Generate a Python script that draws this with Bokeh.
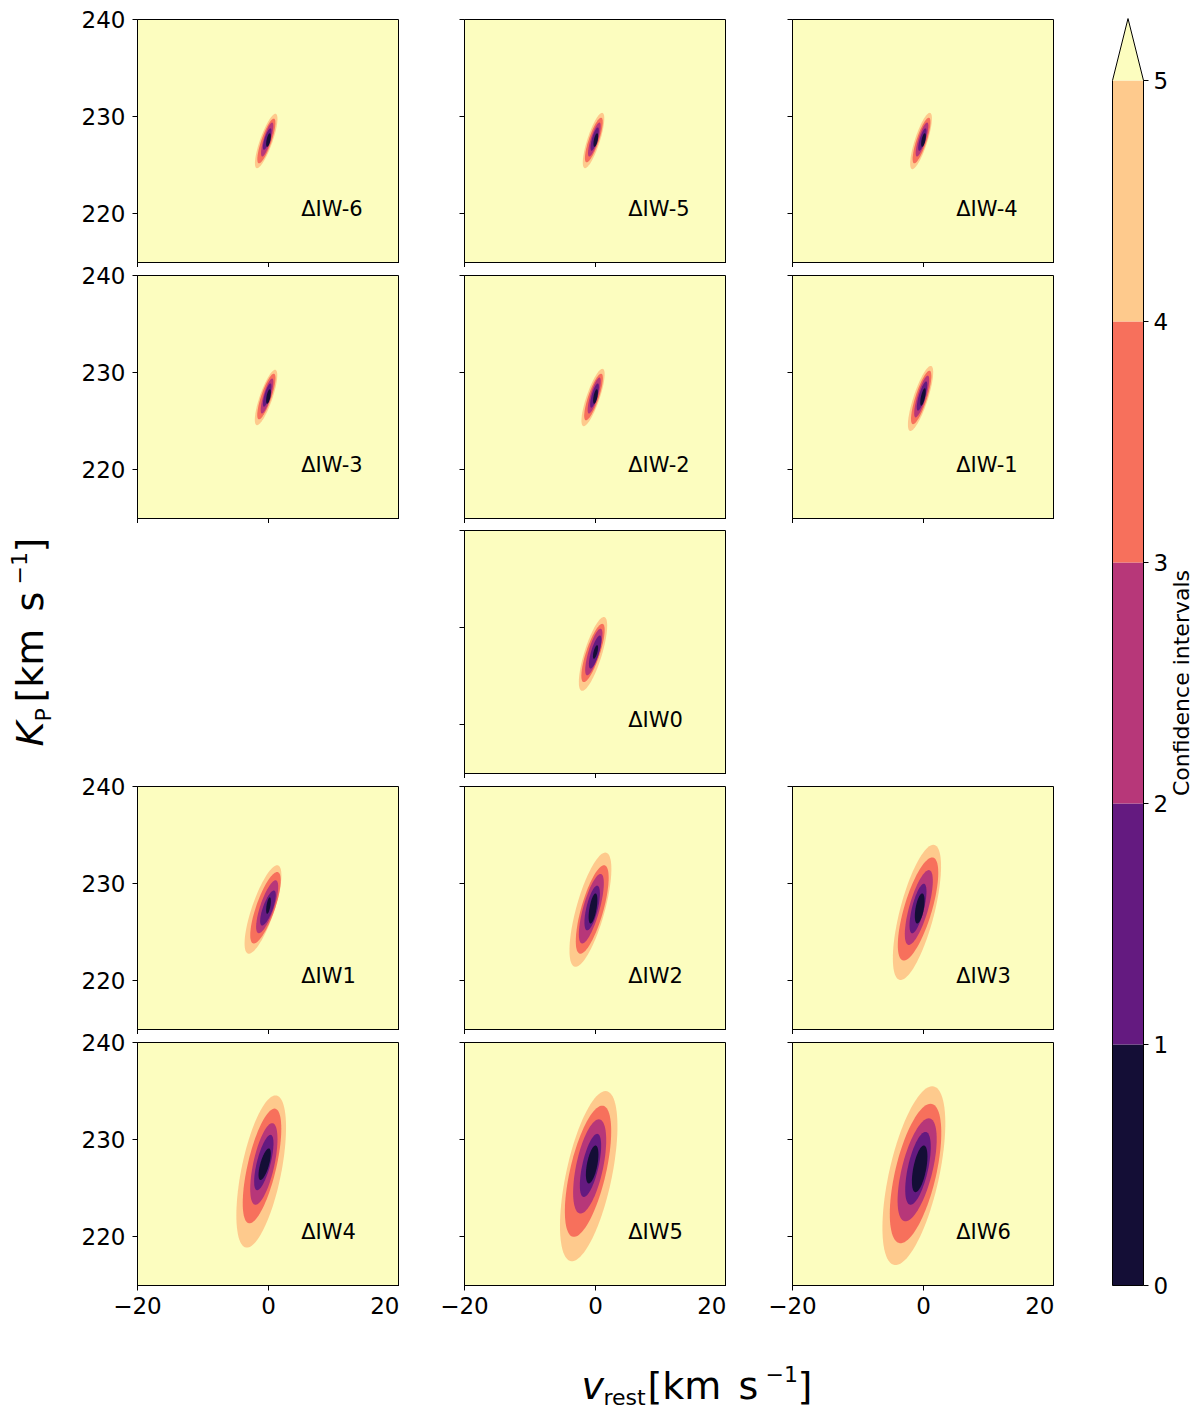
import numpy as np
from bokeh.plotting import figure
from bokeh.layouts import row, column
from bokeh.models import Range1d, FixedTicker, Spacer
from bokeh.core.properties import value
from bokeh.embed import file_html
from bokeh.resources import INLINE

# ---------------- data ----------------
level_bounds = [0, 1, 2, 3, 4, 5]
level_colors = ["#140e36", "#641a80", "#b73779", "#f7705c", "#feca8d"]
over_color = "#fcfdbf"
cbar_ticks = [0, 1, 2, 3, 4, 5]
cbar_tip = 5.257
x_ticks = [-20, 0, 20]
y_ticks = [220, 230, 240]
x_lim = [-20, 20]
y_lim = [215, 240]

panel_grid = [
    ["ΔIW-6", "ΔIW-5", "ΔIW-4"],
    ["ΔIW-3", "ΔIW-2", "ΔIW-1"],
    [None, "ΔIW0", None],
    ["ΔIW1", "ΔIW2", "ΔIW3"],
    ["ΔIW4", "ΔIW5", "ΔIW6"],
]

# contour extents per panel, levels 1..5 sigma (inner -> outer)
# k_top / k_bot: highest / lowest K_P of the contour, v_top / v_bot: v_rest at those points,
# half_w: half width in v_rest of the horizontal chord through the centre
m6_k_top = [228.3, 228.8, 229.4, 229.8, 230.3]
m6_k_bot = [226.9, 226.6, 225.9, 225.2, 224.7]
m6_v_top = [0.2, 0.3, 0.55, 0.8, 1.05]
m6_v_bot = [-0.2, -0.7, -0.95, -1.45, -1.75]
m6_half_w = [0.3, 0.42, 0.56, 0.8, 1.0]

m5_k_top = [228.3, 228.9, 229.4, 229.9, 230.4]
m5_k_bot = [226.9, 226.5, 225.9, 225.3, 224.7]
m5_v_top = [0.25, 0.35, 0.6, 0.85, 1.0]
m5_v_bot = [-0.15, -0.6, -0.95, -1.35, -1.6]
m5_half_w = [0.3, 0.42, 0.58, 0.8, 1.0]

m4_k_top = [228.3, 228.8, 229.4, 229.9, 230.4]
m4_k_bot = [226.9, 226.5, 225.9, 225.2, 224.6]
m4_v_top = [0.2, 0.3, 0.55, 0.8, 0.95]
m4_v_bot = [-0.2, -0.65, -1.0, -1.4, -1.7]
m4_half_w = [0.3, 0.42, 0.58, 0.8, 1.0]

m3_k_top = [228.3, 228.9, 229.4, 229.9, 230.3]
m3_k_bot = [226.8, 226.5, 225.8, 225.2, 224.6]
m3_v_top = [0.2, 0.3, 0.55, 0.8, 1.0]
m3_v_bot = [-0.2, -0.7, -1.0, -1.45, -1.75]
m3_half_w = [0.3, 0.42, 0.58, 0.82, 1.02]

m2_k_top = [228.3, 228.9, 229.5, 229.9, 230.4]
m2_k_bot = [226.8, 226.4, 225.8, 225.1, 224.5]
m2_v_top = [0.2, 0.35, 0.6, 0.85, 1.05]
m2_v_bot = [-0.2, -0.65, -1.0, -1.45, -1.8]
m2_half_w = [0.3, 0.44, 0.6, 0.84, 1.05]

m1_k_top = [228.4, 229.1, 229.7, 230.2, 230.7]
m1_k_bot = [226.6, 226.1, 225.4, 224.7, 224.0]
m1_v_top = [0.2, 0.4, 0.65, 0.9, 1.1]
m1_v_bot = [-0.35, -0.85, -1.2, -1.6, -2.0]
m1_half_w = [0.32, 0.5, 0.68, 0.92, 1.15]

p0_k_top = [228.2, 229.2, 229.9, 230.4, 231.1]
p0_k_bot = [226.8, 225.8, 225.1, 224.4, 223.5]
p0_v_top = [0.25, 0.66, 0.76, 1.02, 1.27]
p0_v_bot = [-0.25, -0.76, -1.27, -1.78, -2.03]
p0_half_w = [0.3, 0.64, 0.84, 1.1, 1.4]

p1_k_top = [228.6, 229.3, 230.35, 231.2, 231.9]
p1_k_bot = [226.9, 225.7, 224.9, 223.85, 222.8]
p1_v_top = [0.2, 0.81, 1.07, 1.32, 1.32]
p1_v_bot = [-0.2, -0.97, -1.48, -2.24, -3.0]
p1_half_w = [0.3, 0.8, 1.1, 1.5, 1.8]

p2_k_top = [229.0, 229.8, 231.0, 231.9, 233.2]
p2_k_bot = [225.9, 225.2, 223.85, 222.8, 221.45]
p2_v_top = [0.0, 0.25, 0.76, 1.3, 1.5]
p2_v_bot = [-0.76, -1.27, -2.03, -2.3, -3.05]
p2_half_w = [0.55, 0.9, 1.3, 1.75, 2.25]

p3_k_top = [229.0, 230.0, 231.4, 232.7, 234.0]
p3_k_bot = [225.9, 224.9, 223.7, 222.1, 220.1]
p3_v_top = [-0.2, 0.05, 0.81, 1.33, 1.5]
p3_v_bot = [-0.96, -1.73, -2.24, -3.0, -3.5]
p3_half_w = [0.64, 0.94, 1.5, 2.2, 2.7]

p4_k_top = [229.1, 230.5, 231.7, 233.2, 234.56]
p4_k_bot = [225.85, 224.8, 223.3, 221.4, 218.9]
p4_v_top = [0.05, 0.3, 0.56, 0.92, 1.07]
p4_v_bot = [-1.22, -1.73, -1.98, -2.9, -3.3]
p4_half_w = [0.69, 1.07, 1.65, 2.24, 3.1]

p5_k_top = [229.4, 230.6, 232.1, 233.5, 235.0]
p5_k_bot = [225.5, 224.1, 222.4, 220.0, 217.5]
p5_v_top = [0.0, 0.25, 0.51, 1.02, 1.53]
p5_v_bot = [-1.02, -1.78, -2.29, -3.3, -3.6]
p5_half_w = [0.81, 1.27, 2.1, 2.8, 3.56]

p6_k_top = [229.4, 230.8, 232.2, 233.7, 235.5]
p6_k_bot = [224.6, 223.3, 221.6, 219.35, 217.1]
p6_v_top = [0.05, 0.3, 0.81, 1.07, 1.33]
p6_v_bot = [-1.22, -1.98, -2.75, -3.5, -4.27]
p6_half_w = [1.0, 1.58, 2.4, 3.2, 3.9]

contours = {
    "ΔIW-6": (m6_k_top, m6_k_bot, m6_v_top, m6_v_bot, m6_half_w),
    "ΔIW-5": (m5_k_top, m5_k_bot, m5_v_top, m5_v_bot, m5_half_w),
    "ΔIW-4": (m4_k_top, m4_k_bot, m4_v_top, m4_v_bot, m4_half_w),
    "ΔIW-3": (m3_k_top, m3_k_bot, m3_v_top, m3_v_bot, m3_half_w),
    "ΔIW-2": (m2_k_top, m2_k_bot, m2_v_top, m2_v_bot, m2_half_w),
    "ΔIW-1": (m1_k_top, m1_k_bot, m1_v_top, m1_v_bot, m1_half_w),
    "ΔIW0": (p0_k_top, p0_k_bot, p0_v_top, p0_v_bot, p0_half_w),
    "ΔIW1": (p1_k_top, p1_k_bot, p1_v_top, p1_v_bot, p1_half_w),
    "ΔIW2": (p2_k_top, p2_k_bot, p2_v_top, p2_v_bot, p2_half_w),
    "ΔIW3": (p3_k_top, p3_k_bot, p3_v_top, p3_v_bot, p3_half_w),
    "ΔIW4": (p4_k_top, p4_k_bot, p4_v_top, p4_v_bot, p4_half_w),
    "ΔIW5": (p5_k_top, p5_k_bot, p5_v_top, p5_v_bot, p5_half_w),
    "ΔIW6": (p6_k_top, p6_k_bot, p6_v_top, p6_v_bot, p6_half_w),
}
label_pos = (5, 220.5)

# ---------------- layout constants ----------------
FONT = "DejaVu Sans"
TICK_FS = "23px"
FW, FH = 262, 243
LABEL_W = 70
col_left = [67, 65, 66]
row_top = [19, 18, 7, 18, 18]
row_overlap = [0, 10, 0, 10, 10]   # rows pulled up so their transparent top border overlaps
row_bottom = [5, 5, 5, 5, 45]
GRID_H = sum(row_top) + 5 * FH + sum(row_bottom) - sum(row_overlap)
PAGE_W, PAGE_H = 1196, 1412
CB_W = PAGE_W - LABEL_W - sum(col_left) - 3 * FW


def contour_outline(vt, vb, kt, kb, hw, n=90):
    t = np.linspace(0, 2 * np.pi, n)
    vc, kc = (vt + vb) / 2, (kt + kb) / 2
    av, ak = (vt - vb) / 2, (kt - kb) / 2
    return vc + av * np.cos(t) + hw * np.sin(t), kc + ak * np.cos(t)


def make_panel(name, ri, ci):
    lb, tb, bb = col_left[ci], row_top[ri], row_bottom[ri]
    p = figure(width=lb + FW, height=tb + FH + bb, title=None,
               x_range=Range1d(*x_lim), y_range=Range1d(*y_lim),
               min_border_left=lb, min_border_right=0, min_border_top=tb, min_border_bottom=bb,
               background_fill_color=over_color, border_fill_color=None,
               outline_line_color="black", outline_line_width=1,
               output_backend="svg", toolbar_location=None, tools="")
    p.grid.visible = False
    kt, kb, vt, vb, hw = contours[name]
    for i in range(4, -1, -1):
        xs, ys = contour_outline(vt[i], vb[i], kt[i], kb[i], hw[i])
        p.patch(xs, ys, fill_color=level_colors[i], line_color=None)
    p.text(x=[label_pos[0]], y=[label_pos[1]], text=[name], text_font=value(FONT),
           text_font_size="21px", text_color="black", text_align="left", text_baseline="alphabetic")
    for ax, ticks in ((p.xaxis, x_ticks), (p.yaxis, y_ticks)):
        ax.ticker = FixedTicker(ticks=ticks)
        ax.minor_tick_line_color = None
        ax.major_tick_in = 0
        ax.major_tick_out = 5
        ax.major_tick_line_color = "black"
        ax.axis_line_color = "black"
        ax.major_label_text_font = FONT
        ax.major_label_text_font_size = TICK_FS
        ax.major_label_text_color = "black"
    p.xaxis.major_label_overrides = {-20: "−20", 0: "0", 20: "20"}
    if ri == 4:
        p.xaxis.major_label_standoff = 6
    else:
        p.xaxis.major_label_text_color = None
        p.xaxis.major_label_standoff = 0
    if ci == 0:
        p.yaxis.major_label_standoff = 7
    else:
        p.yaxis.major_label_text_color = None
        p.yaxis.major_label_standoff = 0
    return p


rows = []
for ri, names in enumerate(panel_grid):
    kids = []
    for ci, name in enumerate(names):
        if name is None:
            kids.append(Spacer(width=col_left[ci] + FW, height=row_top[ri] + FH + row_bottom[ri]))
        else:
            kids.append(make_panel(name, ri, ci))
    if row_overlap[ri]:
        rows.append(row(*kids, styles={"margin-top": f"-{row_overlap[ri]}px"}))
    else:
        rows.append(row(*kids))
grid_col = column(*rows)

MAIN_FS, SCRIPT_FS = "38px", "22px"

# ---- y label figure (pixel coordinates) ----
ylab = figure(width=LABEL_W, height=GRID_H, title=None, x_range=Range1d(0, LABEL_W),
              y_range=Range1d(0, GRID_H), min_border=0, outline_line_color=None,
              x_axis_location=None, y_axis_location=None,
              output_backend="svg", toolbar_location=None, tools="")
ylab.grid.visible = False
ang = np.pi / 2
y_parts = [  # (text, anchor x px, start y px, size, style)
    ("K", 29, 746, MAIN_FS, "italic"),
    ("P", 43, 721, SCRIPT_FS, "normal"),
    ("[km", 29, 702, MAIN_FS, "normal"),
    ("s", 29, 611, MAIN_FS, "normal"),
    ("−1", 18, 584, SCRIPT_FS, "normal"),
    ("]", 29, 552, MAIN_FS, "normal"),
]
for txt, bx, sy, fs, st in y_parts:
    ylab.text(x=[bx], y=[GRID_H - sy], text=[txt], angle=ang, text_font=value(FONT),
              text_font_size=fs, text_font_style=st, text_color="black",
              text_align="left", text_baseline="alphabetic")

# ---- colorbar figure ----
BAR_L, BAR_W = 1112, 31
x0_px = LABEL_W + sum(col_left) + 3 * FW
cb = figure(width=CB_W, height=GRID_H, title=None,
            x_range=Range1d((x0_px - BAR_L) / BAR_W, (PAGE_W - BAR_L) / BAR_W),
            y_range=Range1d(-(GRID_H - 1285) / 241, 5 + 80 / 241),
            min_border=0, outline_line_color=None,
            x_axis_location=None, y_axis_location=None,
            output_backend="svg", toolbar_location=None, tools="")
cb.grid.visible = False
cb.quad(left=0, right=1, bottom=level_bounds[:-1], top=level_bounds[1:],
        fill_color=level_colors, line_color=None)
cb.patch([0, 1, 0.5], [level_bounds[-1], level_bounds[-1], cbar_tip], fill_color=over_color, line_color=None)
cb.line([0, 1, 1, 0.5, 0, 0], [0, 0, 5, cbar_tip, 5, 0], line_color="black", line_width=1)
cb.segment(x0=[1] * len(cbar_ticks), x1=[1 + 5 / BAR_W] * len(cbar_ticks), y0=cbar_ticks, y1=cbar_ticks,
           line_color="black", line_width=1)
cb.text(x=[1 + 10 / BAR_W] * len(cbar_ticks), y=cbar_ticks, text=[str(t) for t in cbar_ticks],
        text_font=value(FONT), text_font_size=TICK_FS, text_color="black",
        text_align="left", text_baseline="middle")
cb.text(x=[(1181 - BAR_L) / BAR_W], y=[2.5], text=["Confidence intervals"], angle=ang,
        text_font=value(FONT), text_font_size="22px", text_color="black",
        text_align="center", text_baseline="middle")

# ---- x label figure ----
XL_H = PAGE_H - GRID_H
xlab = figure(width=PAGE_W, height=XL_H, title=None, x_range=Range1d(0, PAGE_W),
              y_range=Range1d(0, XL_H), min_border=0, outline_line_color=None,
              x_axis_location=None, y_axis_location=None,
              output_backend="svg", toolbar_location=None, tools="")
xlab.grid.visible = False
x_parts = [  # (text, x px, anchor y px, size, style)
    ("v", 581, 1385, MAIN_FS, "italic"),
    ("rest", 603, 1397, SCRIPT_FS, "normal"),
    ("[km", 647, 1385, MAIN_FS, "normal"),
    ("s", 738, 1385, MAIN_FS, "normal"),
    ("−1", 765, 1373, SCRIPT_FS, "normal"),
    ("]", 797, 1385, MAIN_FS, "normal"),
]
for txt, px, py, fs, st in x_parts:
    xlab.text(x=[px], y=[PAGE_H - py], text=[txt], text_font=value(FONT),
              text_font_size=fs, text_font_style=st, text_color="black",
              text_align="left", text_baseline="alphabetic")

layout = column(row(ylab, grid_col, cb), xlab)
open("out.html", "w").write(file_html(layout, INLINE))
